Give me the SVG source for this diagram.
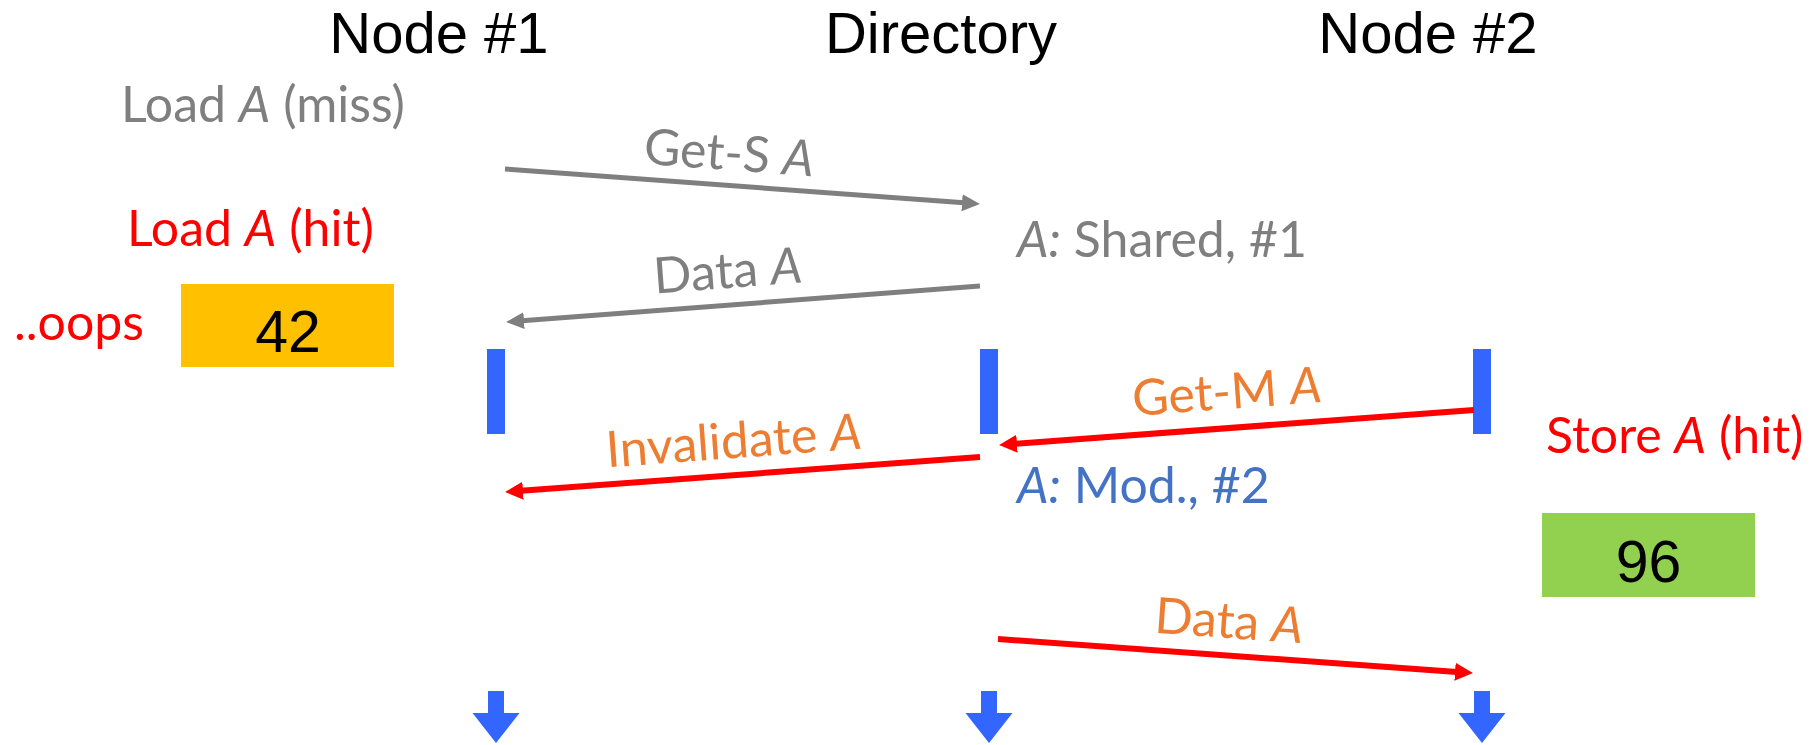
<svg xmlns="http://www.w3.org/2000/svg" width="1813" height="745" viewBox="0 0 1813 745">
  <style>
    .head { font-family: "Liberation Sans", Arial, sans-serif; font-size: 58px; fill: #000; }
    .lbl { font-family: Lato, "Open Sans", sans-serif; font-size: 50px; }
    .gray { fill: #7F7F7F; }
    .red { fill: #FF0000; }
    .orange { fill: #ED7D31; }
    .blue { fill: #4472C4; }
    .val { font-family: "Liberation Sans", Arial, sans-serif; font-size: 59px; fill: #000; text-anchor: middle; }
    .it { font-style: italic; }
    .bar { fill: #3366FF; }
    .msg-g { stroke: #7F7F7F; stroke-width: 5; fill: none; }
    .msg-r { stroke: #FF0000; stroke-width: 6; fill: none; }
  </style>
  <defs>
    <marker id="ah-gray" markerUnits="userSpaceOnUse" markerWidth="20" markerHeight="20" viewBox="0 -10 20 20" refX="2" refY="0" orient="auto">
      <path d="M0,-8.5 L18,0 L0,8.5 z" fill="#7F7F7F"/>
    </marker>
    <marker id="ah-red" markerUnits="userSpaceOnUse" markerWidth="20" markerHeight="20" viewBox="0 -10 20 20" refX="2" refY="0" orient="auto">
      <path d="M0,-9 L18,0 L0,9 z" fill="#FF0000"/>
    </marker>
  </defs>

  <!-- lifelines: heading, activity bar, continuation arrow -->
  <g id="node1">
    <text class="head" x="439" y="53" text-anchor="middle">Node #1</text>
    <rect class="bar" x="487" y="349" width="18" height="85"/>
    <polygon class="bar" points="488,691 504,691 504,713 519.5,713 496,743 472.5,713 488,713"/>
  </g>
  <g id="directory">
    <text class="head" x="941" y="53" text-anchor="middle">Directory</text>
    <rect class="bar" x="980" y="349" width="18" height="85"/>
    <polygon class="bar" points="981,691 997,691 997,713 1012.5,713 989,743 965.5,713 981,713"/>
  </g>
  <g id="node2">
    <text class="head" x="1428" y="53" text-anchor="middle">Node #2</text>
    <rect class="bar" x="1473" y="349" width="18" height="85"/>
    <polygon class="bar" points="1474,691 1490,691 1490,713 1505.5,713 1482,743 1458.5,713 1474,713"/>
  </g>

  <!-- events at Node #1 -->
  <g id="load-miss">
    <text class="lbl gray" x="121" y="122">Load <tspan class="it">A</tspan> (miss)</text>
  </g>
  <g id="load-hit">
    <text class="lbl red" x="127" y="246">Load <tspan class="it">A</tspan> (hit)</text>
  </g>
  <g id="oops">
    <text class="lbl red" x="14" y="340">..oops</text>
  </g>
  <g id="value-42">
    <rect x="181" y="284" width="213" height="83" fill="#FFC000"/>
    <text class="val" x="288" y="352">42</text>
  </g>

  <!-- directory state -->
  <g id="state-shared">
    <text class="lbl gray" x="1017" y="257"><tspan class="it">A:</tspan> Shared, #1</text>
  </g>
  <g id="state-mod">
    <text class="lbl blue" x="1017" y="503"><tspan class="it">A:</tspan> Mod., #2</text>
  </g>

  <!-- events at Node #2 -->
  <g id="store-hit">
    <text class="lbl red" x="1546" y="453">Store <tspan class="it">A</tspan> (hit)</text>
  </g>
  <g id="value-96">
    <rect x="1542" y="513" width="213" height="84" fill="#92D050"/>
    <text class="val" x="1648.5" y="582">96</text>
  </g>

  <!-- messages -->
  <g id="connectors">
    <line class="msg-g" x1="505" y1="169" x2="964" y2="202.8" marker-end="url(#ah-gray)"/>
    <text class="lbl gray" x="728" y="170" text-anchor="middle" transform="rotate(4.2 728 170)">Get-S <tspan class="it">A</tspan></text>

    <line class="msg-g" x1="980" y1="286" x2="522" y2="320.8" marker-end="url(#ah-gray)"/>
    <text class="lbl gray" x="729" y="288" text-anchor="middle" transform="rotate(-4.3 729 288)">Data <tspan class="it">A</tspan></text>

    <line class="msg-r" x1="1474" y1="410" x2="1015" y2="443.8" marker-end="url(#ah-red)"/>
    <text class="lbl orange" x="1228" y="409" text-anchor="middle" transform="rotate(-4.2 1228 409)">Get-M <tspan class="it">A</tspan></text>

    <line class="msg-r" x1="980" y1="457" x2="521" y2="490.8" marker-end="url(#ah-red)"/>
    <text class="lbl orange" x="735" y="458" text-anchor="middle" transform="rotate(-4.2 735 458)">Invalidate <tspan class="it">A</tspan></text>

    <line class="msg-r" x1="998" y1="639" x2="1457" y2="671.9" marker-end="url(#ah-red)"/>
    <text class="lbl orange" x="1228" y="638" text-anchor="middle" transform="rotate(4.1 1228 638)">Data <tspan class="it">A</tspan></text>
  </g>
</svg>
